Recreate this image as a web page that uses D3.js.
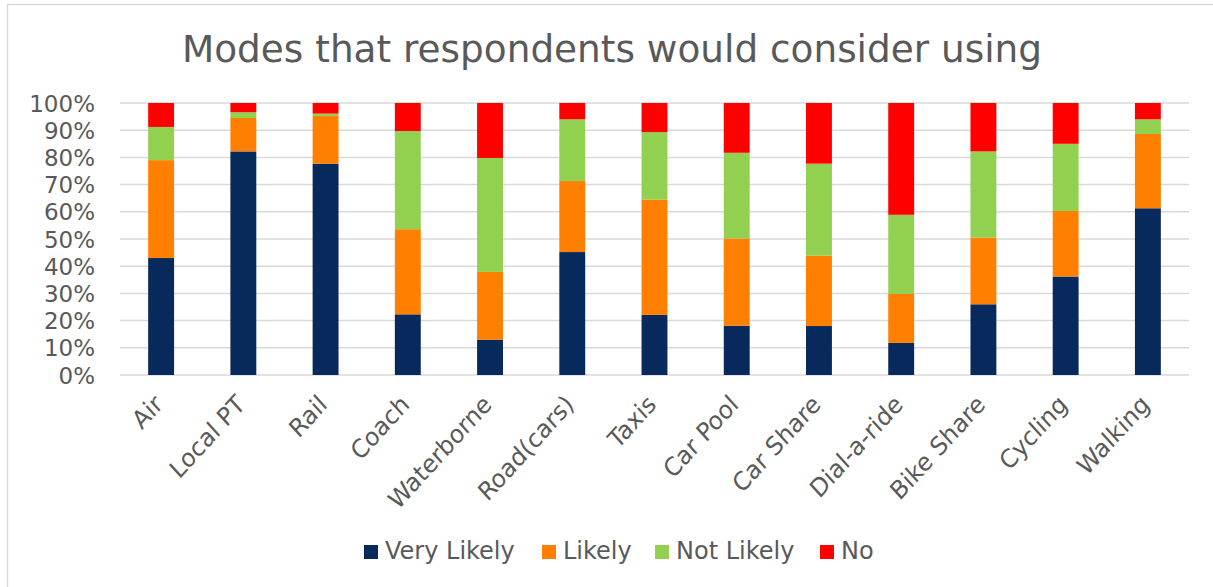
<!DOCTYPE html>
<html><head><meta charset="utf-8">
<script src="https://cdn.jsdelivr.net/npm/d3@7"></script>
<style>body{margin:0;background:#fff}svg{display:block}text{font-family:"DejaVu Sans",Verdana,sans-serif;fill:#595959}</style>
</head><body>
<script>
const categories = ["Air","Local PT","Rail","Coach","Waterborne","Road(cars)","Taxis","Car Pool","Car Share","Dial-a-ride","Bike Share","Cycling","Walking"];
const seriesNames = ["Very Likely","Likely","Not Likely","No"];
const veryLikely = [43, 82.2, 77.7, 22.3, 13.0, 45.2, 22.1, 18.1, 18.0, 11.8, 26.0, 36.2, 61.3];
const likely     = [36, 12.3, 17.5, 31.3, 24.9, 26.1, 42.4, 32.1, 25.9, 18.0, 24.5, 24.1, 27.3];
const notLikely  = [12.2, 2.1, 0.9, 36.1, 41.9, 22.7, 24.8, 31.5, 33.8, 29.1, 31.7, 24.7, 5.4];
const no         = [8.8, 3.4, 3.9, 10.3, 20.2, 6.0, 10.7, 18.3, 22.3, 41.1, 17.8, 15.0, 6.0];
const colors = ["#08295c","#ff7f00","#92d050","#ff0000"];
const yTicks = [0,10,20,30,40,50,60,70,80,90,100];
const title = "Modes that respondents would consider using";

const W = 1213, H = 587;
const svg = d3.select("body").append("svg").attr("width", W).attr("height", H);
svg.append("rect").attr("x",7.5).attr("y",4.5).attr("width",1230).attr("height",620)
  .attr("fill","#fff").attr("stroke","#d9d9d9").attr("stroke-width",1.5);

const x = d3.scaleBand().domain(categories).range([120,1189]).paddingInner(0.685).paddingOuter(0.3425);
const y = d3.scaleLinear().domain([0,100]).range([375,103]);

svg.append("text").attr("x",612).attr("y",62).attr("text-anchor","middle")
  .style("font-size","37.4px").text(title);

const grid = svg.append("g");
grid.selectAll("line").data(yTicks).join("line")
  .attr("x1",120).attr("x2",1189).attr("y1",d=>y(d)).attr("y2",d=>y(d))
  .attr("stroke","#d9d9d9").attr("stroke-width",1.5);

svg.append("g").selectAll("text").data(yTicks).join("text")
  .attr("x",95).attr("y",d=>y(d)+8.5).attr("text-anchor","end")
  .style("font-size","23px").text(d=>d+"%");

const rows = categories.map((c,i)=>({cat:c, "Very Likely":veryLikely[i], "Likely":likely[i], "Not Likely":notLikely[i], "No":no[i]}));
const stack = d3.stack().keys(seriesNames)(rows);
svg.append("g").selectAll("g").data(stack).join("g").attr("fill",(d,i)=>colors[i])
  .selectAll("rect").data(d=>d).join("rect")
  .attr("x",d=>x(d.data.cat)).attr("width",x.bandwidth())
  .attr("y",d=>y(Math.min(100,d[1]))).attr("height",d=>y(d[0])-y(Math.min(100,d[1])));

svg.append("g").selectAll("text").data(categories).join("text")
  .attr("text-anchor","end")
  .attr("transform",d=>`translate(${x(d)+x.bandwidth()/2+3},${406}) scale(1,1.1) rotate(-45)`)
  .style("font-size","23px").text(d=>d);

const legX = [364, 542, 655, 820];
const lg = svg.append("g").selectAll("g").data(seriesNames).join("g")
  .attr("transform",(d,i)=>`translate(${legX[i]},545)`);
lg.append("rect").attr("width",14).attr("height",14).attr("fill",(d,i)=>colors[i]);
lg.append("text").attr("x",21).attr("y",14).style("font-size","24px").text(d=>d);
</script>
</body></html>
